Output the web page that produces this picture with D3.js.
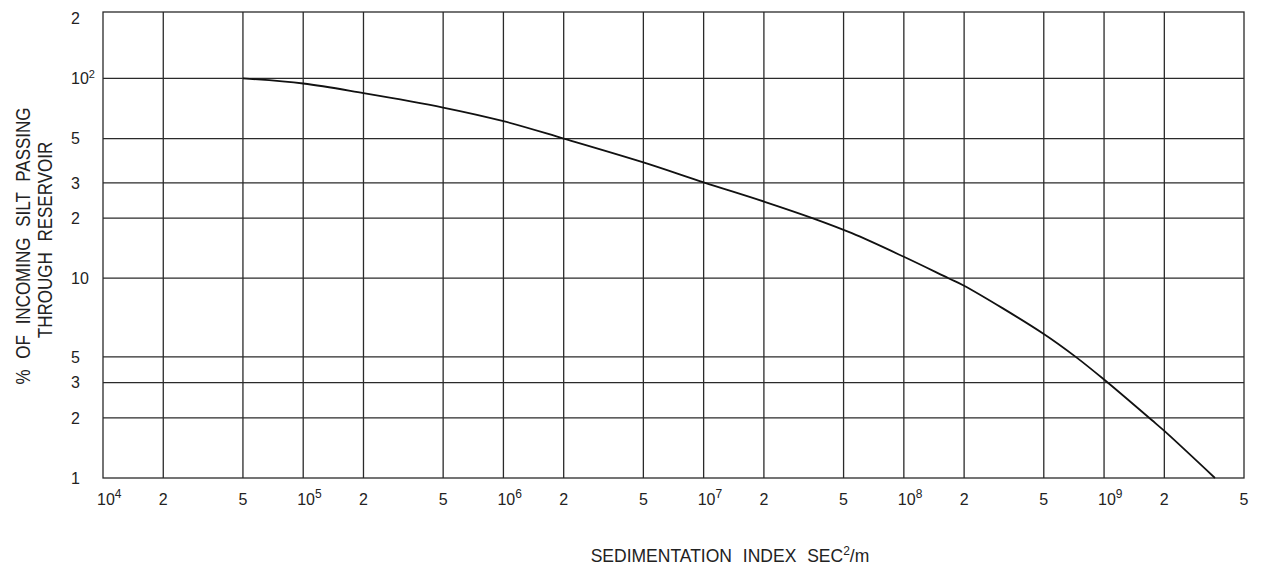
<!DOCTYPE html>
<html>
<head>
<meta charset="utf-8">
<script src="https://cdn.jsdelivr.net/npm/d3@7"></script>
<style>
	body { margin: 0; background: #fff; }
	text { font-family: "Liberation Sans", Arial, sans-serif; fill: #222; }
</style>
</head>
<body>
<div id="chart"></div>
<script>
// curve (sedimentation index, % passing)
var sedIndex   = [5e4, 1e5, 2e5, 5e5, 1e6, 2e6, 5e6, 1e7, 2e7, 3.49e7, 5.5e7, 1e8, 1.67e8, 2e8, 5e8, 7.22e8, 1e9, 1.73e9, 2e9, 3.58e9];
var pctPassing = [100, 94.3, 84.4, 71.5, 61.1, 50, 38.0, 30.2, 24.2, 20, 16.8, 12.8, 10, 9.17, 5.26, 4.04, 3.11, 1.95, 1.72, 1];

var xDomain = [1e4, 5e9];
var yDomain = [1, 215];

var xTicks      = [1e4, 2e4, 5e4, 1e5, 2e5, 5e5, 1e6, 2e6, 5e6, 1e7, 2e7, 5e7, 1e8, 2e8, 5e8, 1e9, 2e9, 5e9];
var xTickLabels = ["10|4", "2", "5", "10|5", "2", "5", "10|6", "2", "5", "10|7", "2", "5", "10|8", "2", "5", "10|9", "2", "5"];

// the lower "5" line sits where ~4 would be in the original drawing
var yGrid       = [2, 3, 4.04, 10, 20, 30, 50, 100];
var yTicks      = [1, 2, 3, 4.04, 10, 20, 30, 50, 100, 200];
var yTickLabels = ["1", "2", "3", "5", "10", "2", "3", "5", "10|2", "2"];

(function() {
	var width = 1261,
		height = 567;
	var left = 103, right = 1244, top = 12, bottom = 478;

	var svg = d3.select("#chart")
		.append("svg")
		.attr("width", width)
		.attr("height", height)

	var x = d3.scaleLog().domain(xDomain).range([left, right])
	var y = d3.scaleLog().domain(yDomain).range([bottom, top])

	function putLabel(sel, str, supSize, supDy) {
		var parts = str.split("|")
		sel.text(parts[0])
		if (parts[1]) {
			sel.append("tspan")
				.attr("dy", supDy)
				.attr("font-size", supSize)
				.text(parts[1])
		}
	}

	var grid = svg.append("g")
		.attr("stroke", "#2a2a2a")
		.attr("stroke-width", 1.3)
		.attr("fill", "none")

	grid.selectAll(".vline")
		.data(xTicks.slice(1, -1))
		.enter().append("line")
		.attr("class", "vline")
		.attr("x1", function(d) { return x(d) })
		.attr("x2", function(d) { return x(d) })
		.attr("y1", top)
		.attr("y2", bottom)

	grid.selectAll(".hline")
		.data(yGrid)
		.enter().append("line")
		.attr("class", "hline")
		.attr("x1", left)
		.attr("x2", right)
		.attr("y1", function(d) { return y(d) })
		.attr("y2", function(d) { return y(d) })

	grid.append("rect")
		.attr("x", x(xDomain[0]))
		.attr("y", y(yDomain[1]))
		.attr("width", x(xDomain[1]) - x(xDomain[0]))
		.attr("height", y(yDomain[0]) - y(yDomain[1]))

	// curve
	var line = d3.line()
		.x(function(d) { return x(d[0]) })
		.y(function(d) { return y(d[1]) })
		.curve(d3.curveCatmullRom.alpha(0.5))

	svg.append("path")
		.datum(d3.zip(sedIndex, pctPassing))
		.attr("d", line)
		.attr("fill", "none")
		.attr("stroke", "#111")
		.attr("stroke-width", 1.8)

	// x tick labels
	svg.selectAll(".xlab")
		.data(xTicks)
		.enter().append("text")
		.attr("class", "xlab")
		.attr("font-size", 16)
		.attr("y", 505)
		.attr("x", function(d, i) { return xTickLabels[i].indexOf("|") > -1 ? x(d) - 6 : x(d) })
		.attr("text-anchor", function(d, i) { return xTickLabels[i].indexOf("|") > -1 ? "start" : "middle" })
		.each(function(d, i) { putLabel(d3.select(this), xTickLabels[i], 12, -7) })

	// y tick labels
	svg.selectAll(".ylab")
		.data(yTicks)
		.enter().append("text")
		.attr("class", "ylab")
		.attr("font-size", 16)
		.attr("x", 71)
		.attr("y", function(d) { return y(d) + 5.8 })
		.each(function(d, i) { putLabel(d3.select(this), yTickLabels[i], 11, -6) })

	// axis titles
	var xt = svg.append("text")
		.attr("x", 730)
		.attr("y", 562)
		.attr("text-anchor", "middle")
		.attr("font-size", 17.5)
		.style("word-spacing", "6px")
		.text("SEDIMENTATION INDEX SEC")
	xt.append("tspan").attr("dy", -7).attr("font-size", 12).text("2")
	xt.append("tspan").attr("dy", 7).text("/m")

	svg.append("text")
		.attr("transform", "translate(30,246) rotate(-90) scale(1,1.2)")
		.attr("text-anchor", "middle")
		.attr("font-size", 17)
		.style("word-spacing", "6px")
		.text("% OF INCOMING SILT PASSING")

	svg.append("text")
		.attr("transform", "translate(51.5,240) rotate(-90) scale(1,1.2)")
		.attr("text-anchor", "middle")
		.attr("font-size", 17)
		.style("word-spacing", "6px")
		.text("THROUGH RESERVOIR")
})();
</script>
</body>
</html>
